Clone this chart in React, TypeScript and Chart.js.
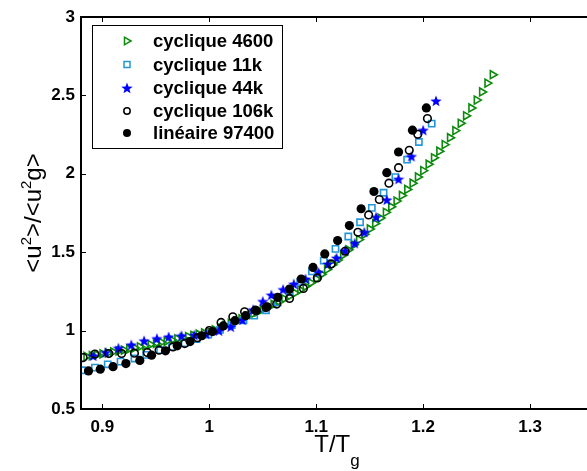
import React, { useEffect, useRef } from 'react';
import { Chart, registerables } from 'chart.js';

Chart.register(...registerables);

const xTickValues = [0.9, 1.0, 1.1, 1.2, 1.3, 1.4];
const xTickLabels = ['0.9', '1', '1.1', '1.2', '1.3', '1.4'];
const yTickValues = [0.5, 1, 1.5, 2, 2.5, 3];
const yTickLabels = ['0.5', '1', '1.5', '2', '2.5', '3'];

const seriesNames = ['cyclique 4600', 'cyclique 11k', 'cyclique 44k', 'cyclique 106k', 'linéaire 97400'];

const c4600X = [
  0.885, 0.89, 0.895, 0.9, 0.905, 0.91, 0.915, 0.92, 0.925, 0.93, 0.935, 0.94, 0.945, 0.95, 0.955, 0.96,
  0.965, 0.97, 0.975, 0.98, 0.985, 0.99, 0.995, 1.0, 1.005, 1.01, 1.015, 1.02, 1.025, 1.03, 1.035, 1.04,
  1.045, 1.05, 1.055, 1.06, 1.065, 1.07, 1.075, 1.08, 1.085, 1.09, 1.095, 1.1, 1.105, 1.11, 1.115, 1.12,
  1.125, 1.13, 1.135, 1.14, 1.145, 1.15, 1.155, 1.16, 1.165, 1.17, 1.175, 1.18, 1.185, 1.19, 1.195, 1.2,
  1.205, 1.21, 1.215, 1.22, 1.225, 1.23, 1.235, 1.24, 1.245, 1.25, 1.255, 1.26, 1.265,
];
const c4600Y = [
  0.835, 0.84, 0.846, 0.852, 0.858, 0.864, 0.87, 0.876, 0.883, 0.89, 0.897, 0.904, 0.911, 0.918, 0.925, 0.932,
  0.94, 0.947, 0.955, 0.962, 0.97, 0.977, 0.985, 0.992, 1.005, 1.018, 1.032, 1.046, 1.06, 1.075, 1.09, 1.104,
  1.12, 1.135, 1.151, 1.168, 1.185, 1.203, 1.221, 1.24, 1.26, 1.282, 1.305, 1.33, 1.359, 1.39, 1.42, 1.45,
  1.482, 1.515, 1.547, 1.58, 1.614, 1.648, 1.683, 1.718, 1.754, 1.79, 1.826, 1.862, 1.9, 1.94, 1.98, 2.02,
  2.061, 2.102, 2.144, 2.186, 2.23, 2.275, 2.322, 2.37, 2.42, 2.47, 2.522, 2.578, 2.632,
];

const c11kX = [
  0.881, 0.893, 0.905, 0.917, 0.93, 0.941, 0.954, 0.965, 0.977, 0.988, 0.999, 1.01, 1.021, 1.032, 1.042,
  1.053, 1.064, 1.075, 1.085, 1.096, 1.107, 1.118, 1.13, 1.141, 1.152, 1.163, 1.174, 1.185, 1.196, 1.208,
];
const c11kY = [
  0.747, 0.764, 0.785, 0.802, 0.822, 0.845, 0.875, 0.896, 0.92, 0.946, 0.975, 1.005, 1.035, 1.065, 1.095,
  1.13, 1.18, 1.245, 1.31, 1.378, 1.446, 1.521, 1.6, 1.691, 1.783, 1.879, 1.979, 2.09, 2.203, 2.32,
];

const c44kX = [
  0.8915, 0.903, 0.915, 0.927, 0.939, 0.951, 0.962, 0.974, 0.986, 0.997, 1.009, 1.02, 1.031, 1.041, 1.05,
  1.058, 1.069, 1.079, 1.09, 1.102, 1.111, 1.119, 1.127, 1.136, 1.145, 1.156, 1.166, 1.177, 1.189, 1.2, 1.212,
];
const c44kY = [
  0.839, 0.86, 0.888, 0.909, 0.935, 0.949, 0.96, 0.967, 0.971, 0.978, 0.999, 1.024, 1.068, 1.133, 1.186,
  1.227, 1.262, 1.297, 1.329, 1.372, 1.425, 1.463, 1.51, 1.557, 1.627, 1.723, 1.834, 1.966, 2.111, 2.278, 2.465,
];

const c106kX = [
  0.882, 0.893, 0.906, 0.918, 0.93, 0.942, 0.953, 0.966, 0.977, 0.989, 1.0, 1.011, 1.022, 1.033, 1.043,
  1.053, 1.063, 1.075, 1.088, 1.101, 1.114, 1.127, 1.139, 1.149, 1.159, 1.168, 1.177, 1.187, 1.195, 1.204,
];
const c106kY = [
  0.828, 0.85, 0.854, 0.854, 0.856, 0.86, 0.875, 0.896, 0.917, 0.955, 1.0, 1.052, 1.088, 1.12, 1.13,
  1.148, 1.169, 1.205, 1.269, 1.336, 1.425, 1.506, 1.627, 1.738, 1.836, 1.94, 2.039, 2.15, 2.252, 2.352,
];

const linX = [
  0.887, 0.898, 0.91, 0.922, 0.935, 0.946, 0.959, 0.97, 0.982, 0.993, 1.003, 1.013, 1.024, 1.034, 1.044,
  1.054, 1.064, 1.075, 1.086, 1.097, 1.108, 1.12, 1.131, 1.142, 1.154, 1.166, 1.177, 1.19, 1.203,
];
const linY = [
  0.743, 0.754, 0.77, 0.79, 0.81, 0.843, 0.871, 0.903, 0.93, 0.967, 0.994, 1.03, 1.063, 1.095, 1.127,
  1.152, 1.212, 1.265, 1.329, 1.403, 1.489, 1.574, 1.67, 1.777, 1.887, 2.007, 2.139, 2.278, 2.42,
];

const GREEN = '#0c8a0c';
const LIGHTBLUE = '#2396d8';
const BLUE = '#0000ff';
const BLACK = '#000000';
const FONT = "Arial, 'Liberation Sans', Helvetica, sans-serif";

function zip(xs: number[], ys: number[]) {
  return xs.map((x, i) => ({ x, y: ys[i] }));
}

function makeStar(size: number, color: string): HTMLCanvasElement {
  const c = document.createElement('canvas');
  c.width = size;
  c.height = size;
  const ctx = c.getContext('2d')!;
  const cx = size / 2;
  const cy = size / 2 + 0.5;
  const R = size / 2;
  const r = R * 0.42;
  ctx.beginPath();
  for (let i = 0; i < 10; i++) {
    const a = -Math.PI / 2 + (i * Math.PI) / 5;
    const rad = i % 2 === 0 ? R : r;
    ctx.lineTo(cx + rad * Math.cos(a), cy + rad * Math.sin(a));
  }
  ctx.closePath();
  ctx.fillStyle = color;
  ctx.fill();
  return c;
}

export default function App() {
  const ref = useRef<HTMLCanvasElement | null>(null);

  useEffect(() => {
    const canvas = ref.current;
    if (!canvas) return;
    const star = makeStar(12, BLUE);

    const frame = {
      id: 'frame',
      afterDraw(chart: any) {
        const ctx = chart.ctx;
        const { left, right, top, bottom } = chart.chartArea;
        const xs = chart.scales.x;
        const ys = chart.scales.y;
        ctx.save();
        ctx.strokeStyle = '#000';
        ctx.lineWidth = 2;
        ctx.strokeRect(left, top, right - left, bottom - top);
        ctx.beginPath();
        xTickValues.forEach((v) => {
          const px = Math.round(xs.getPixelForValue(v)) + 0.5;
          ctx.moveTo(px, bottom);
          ctx.lineTo(px, bottom - 5);
          ctx.moveTo(px, top);
          ctx.lineTo(px, top + 5);
        });
        yTickValues.forEach((v) => {
          const py = Math.round(ys.getPixelForValue(v)) + 0.5;
          ctx.moveTo(left, py);
          ctx.lineTo(left + 5, py);
          ctx.moveTo(right, py);
          ctx.lineTo(right - 5, py);
        });
        ctx.lineWidth = 1;
        ctx.stroke();

        // legend
        const lx = 92, ly = 25, lw = 190, lh = 123;
        ctx.fillStyle = '#fff';
        ctx.fillRect(lx, ly, lw, lh);
        ctx.strokeStyle = '#000';
        ctx.lineWidth = 1;
        ctx.strokeRect(lx + 0.5, ly + 0.5, lw, lh);
        const rows = [41, 64.5, 88, 111, 133];
        const mx = 127;
        ctx.font = `bold 18.5px ${FONT}`;
        ctx.textBaseline = 'middle';
        ctx.textAlign = 'left';
        seriesNames.forEach((name, i) => {
          const y = rows[i];
          ctx.lineWidth = 1.5;
          if (i === 0) {
            ctx.strokeStyle = GREEN;
            ctx.beginPath();
            ctx.moveTo(mx + 4, y);
            ctx.lineTo(mx - 2.5, y - 3.8);
            ctx.lineTo(mx - 2.5, y + 3.8);
            ctx.closePath();
            ctx.stroke();
          } else if (i === 1) {
            ctx.strokeStyle = LIGHTBLUE;
            ctx.strokeRect(mx - 3, y - 3, 6, 6);
          } else if (i === 2) {
            ctx.drawImage(star, mx - 6, y - 6);
          } else if (i === 3) {
            ctx.strokeStyle = BLACK;
            ctx.beginPath();
            ctx.arc(mx, y, 3.2, 0, Math.PI * 2);
            ctx.stroke();
          } else {
            ctx.fillStyle = BLACK;
            ctx.beginPath();
            ctx.arc(mx, y, 4, 0, Math.PI * 2);
            ctx.fill();
          }
          ctx.fillStyle = '#000';
          ctx.fillText(name, 153, y + 1);
        });

        // x title
        ctx.fillStyle = '#000';
        ctx.textBaseline = 'alphabetic';
        ctx.font = `24px ${FONT}`;
        const main = 'T/T';
        const mw = ctx.measureText(main).width;
        ctx.font = `17px ${FONT}`;
        const sw = ctx.measureText('g').width;
        const xcx = 337;
        const startX = xcx - (mw + sw) / 2;
        ctx.font = `24px ${FONT}`;
        ctx.fillText(main, startX, 452);
        ctx.font = `17px ${FONT}`;
        ctx.fillText('g', startX + mw, 466);

        // y title
        ctx.save();
        ctx.translate(41, 213);
        ctx.rotate(-Math.PI / 2);
        const segs: [string, boolean][] = [
          ['<u', false], ['2', true], ['>/<u', false], ['2', true], ['g>', false],
        ];
        let total = 0;
        segs.forEach(([t, sup]) => {
          ctx.font = sup ? `15px ${FONT}` : `24px ${FONT}`;
          total += ctx.measureText(t).width;
        });
        let cx = -total / 2;
        segs.forEach(([t, sup]) => {
          ctx.font = sup ? `15px ${FONT}` : `24px ${FONT}`;
          ctx.fillText(t, cx, sup ? -10 : 0);
          cx += ctx.measureText(t).width;
        });
        ctx.restore();
        ctx.restore();
      },
    };

    const chart = new Chart(canvas, {
      type: 'scatter',
      data: {
        datasets: [
          {
            label: seriesNames[0],
            data: zip(c4600X, c4600Y),
            pointStyle: 'triangle',
            rotation: 90,
            radius: 4.6,
            borderColor: GREEN,
            backgroundColor: 'rgba(0,0,0,0)',
            borderWidth: 1.6,
            order: 4,
          },
          {
            label: seriesNames[1],
            data: zip(c11kX, c11kY),
            pointStyle: 'rect',
            radius: 4.4,
            borderColor: LIGHTBLUE,
            backgroundColor: 'rgba(0,0,0,0)',
            borderWidth: 1.6,
            order: 3,
          },
          {
            label: seriesNames[2],
            data: zip(c44kX, c44kY),
            pointStyle: star,
            radius: 6,
            borderColor: BLUE,
            backgroundColor: BLUE,
            order: 2,
          },
          {
            label: seriesNames[3],
            data: zip(c106kX, c106kY),
            pointStyle: 'circle',
            radius: 3.8,
            borderColor: BLACK,
            backgroundColor: 'rgba(0,0,0,0)',
            borderWidth: 1.6,
            order: 1,
          },
          {
            label: seriesNames[4],
            data: zip(linX, linY),
            pointStyle: 'circle',
            radius: 4.6,
            borderColor: BLACK,
            backgroundColor: BLACK,
            borderWidth: 0,
            order: 0,
          },
        ],
      },
      options: {
        animation: false,
        responsive: false,
        devicePixelRatio: 1,
        layout: { padding: { left: 0, top: 17, right: 23, bottom: 0 } },
        plugins: { legend: { display: false }, tooltip: { enabled: false } },
        scales: {
          x: {
            type: 'linear',
            min: 0.88,
            max: 1.4,
            grid: { display: false, drawTicks: false },
            border: { display: false },
            afterBuildTicks: (s: any) => {
              s.ticks = xTickValues.map((v) => ({ value: v }));
            },
            afterFit: (s: any) => {
              s.height = 62;
            },
            ticks: {
              padding: 8,
              color: '#000',
              font: { family: FONT, size: 17, weight: 'bold' },
              callback: (_v: any, i: number) => xTickLabels[i],
              maxRotation: 0,
              autoSkip: false,
            },
          },
          y: {
            type: 'linear',
            min: 0.5,
            max: 3,
            grid: { display: false, drawTicks: false },
            border: { display: false },
            afterBuildTicks: (s: any) => {
              s.ticks = yTickValues.map((v) => ({ value: v }));
            },
            afterFit: (s: any) => {
              s.width = 81;
            },
            ticks: {
              padding: 6,
              color: '#000',
              font: { family: FONT, size: 17, weight: 'bold' },
              callback: (_v: any, i: number) => yTickLabels[i],
              autoSkip: false,
            },
          },
        },
      },
      plugins: [frame],
    } as any);

    return () => chart.destroy();
  }, []);

  return (
    <div
      style={{
        position: 'fixed',
        left: 0,
        top: 0,
        width: 587,
        height: 471,
        overflow: 'hidden',
        background: '#fff',
      }}
    >
      <canvas ref={ref} width={660} height={471} style={{ display: 'block' }} />
    </div>
  );
}
